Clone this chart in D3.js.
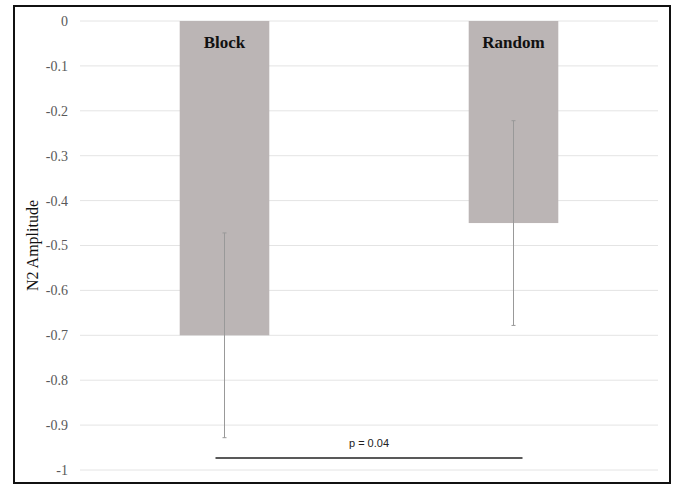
<!DOCTYPE html>
<html>
<head>
<meta charset="utf-8">
<script src="https://cdn.jsdelivr.net/npm/d3@7"></script>
<style>
  body { margin: 0; background: #fff; }
  svg { display: block; }
</style>
</head>
<body>
<div id="vis"></div>
<script>
const categories = ['Block', 'Random'];
const means = [-0.70, -0.45];
const errors = [0.228, 0.228];
const yTicks = [0, -0.1, -0.2, -0.3, -0.4, -0.5, -0.6, -0.7, -0.8, -0.9, -1];
const pLabel = 'p = 0.04';
const pLevel = -0.973;

const visWidth = 676;
const visHeight = 485;

const margin = {
  top: 21,
  bottom: 15,
  left: 80,
  right: 18
};

const serif = '"Liberation Serif", "Times New Roman", serif';

const width = visWidth - margin.left - margin.right;
const height = 470 - margin.top;

const root = d3.select('#vis').append('svg')
    .attr('width', visWidth)
    .attr('height', visHeight);

// outer frame
root.append('rect')
    .attr('x', 14)
    .attr('y', 6)
    .attr('width', 656)
    .attr('height', 477)
    .attr('fill', 'none')
    .attr('stroke', '#111')
    .attr('stroke-width', 2);

const svg = root.append('g')
    .attr('transform', `translate(${margin.left}, ${margin.top})`);

const x = d3.scaleBand()
    .domain(categories)
    .range([0, width])
    .paddingInner(0.69)
    .paddingOuter(0.345);

const y = d3.scaleLinear()
    .domain([-1, 0])
    .range([height, 0]);

// gridlines
svg.selectAll('.grid')
  .data(yTicks)
  .join('line')
    .attr('class', 'grid')
    .attr('x1', 0)
    .attr('x2', width)
    .attr('y1', d => y(d))
    .attr('y2', d => y(d))
    .attr('stroke', '#e4e4e4')
    .attr('stroke-width', 1);

// y axis labels (plain hyphen, like the original)
const yAxis = svg.append('g')
    .call(d3.axisLeft(y).tickValues(yTicks).tickFormat(d => String(d)).tickSize(0).tickPadding(12))
    .attr('font-family', serif)
    .attr('font-size', 14);
yAxis.select('.domain').remove();
yAxis.selectAll('text')
    .style('font-family', serif)
    .attr('fill', '#595959');

// bars
svg.selectAll('.bar')
  .data(categories)
  .join('rect')
    .attr('class', 'bar')
    .attr('x', d => x(d))
    .attr('width', x.bandwidth())
    .attr('y', y(0))
    .attr('height', (d, i) => y(means[i]) - y(0))
    .attr('fill', '#bbb5b5');

// bar labels
svg.selectAll('.label')
  .data(categories)
  .join('text')
    .attr('class', 'label')
    .attr('x', d => x(d) + x.bandwidth() / 2)
    .attr('y', y(-0.06))
    .attr('text-anchor', 'middle')
    .attr('font-family', serif)
    .attr('font-weight', 'bold')
    .attr('font-size', 17)
    .attr('fill', '#111')
    .text(d => d);

// error bars
const cx = d => x(d) + x.bandwidth() / 2;
const err = svg.selectAll('.err')
  .data(categories)
  .join('g')
    .attr('class', 'err')
    .attr('stroke', '#999')
    .attr('stroke-width', 1);
err.append('line')
    .attr('x1', cx).attr('x2', cx)
    .attr('y1', (d, i) => y(means[i] + errors[i]))
    .attr('y2', (d, i) => y(means[i] - errors[i]));
err.append('line')
    .attr('x1', d => cx(d) - 2).attr('x2', d => cx(d) + 2)
    .attr('y1', (d, i) => y(means[i] + errors[i]))
    .attr('y2', (d, i) => y(means[i] + errors[i]));
err.append('line')
    .attr('x1', d => cx(d) - 2).attr('x2', d => cx(d) + 2)
    .attr('y1', (d, i) => y(means[i] - errors[i]))
    .attr('y2', (d, i) => y(means[i] - errors[i]));

// significance line
const x1 = cx(categories[0]) - 9;
const x2 = cx(categories[1]) + 9;
svg.append('line')
    .attr('x1', x1)
    .attr('x2', x2)
    .attr('y1', y(pLevel))
    .attr('y2', y(pLevel))
    .attr('stroke', '#222')
    .attr('stroke-width', 1.5);

svg.append('text')
    .attr('x', (x1 + x2) / 2)
    .attr('y', y(pLevel) - 11)
    .attr('text-anchor', 'middle')
    .attr('font-family', '"Liberation Sans Narrow", "Liberation Sans", Arial, sans-serif')
    .attr('font-size', 11)
    .attr('fill', '#222')
    .text(pLabel);

// y axis title
root.append('text')
    .attr('transform', `translate(38, ${margin.top + height / 2}) rotate(-90)`)
    .attr('text-anchor', 'middle')
    .attr('font-family', serif)
    .attr('font-size', 16)
    .attr('fill', '#111')
    .text('N2 Amplitude');
</script>
</body>
</html>
